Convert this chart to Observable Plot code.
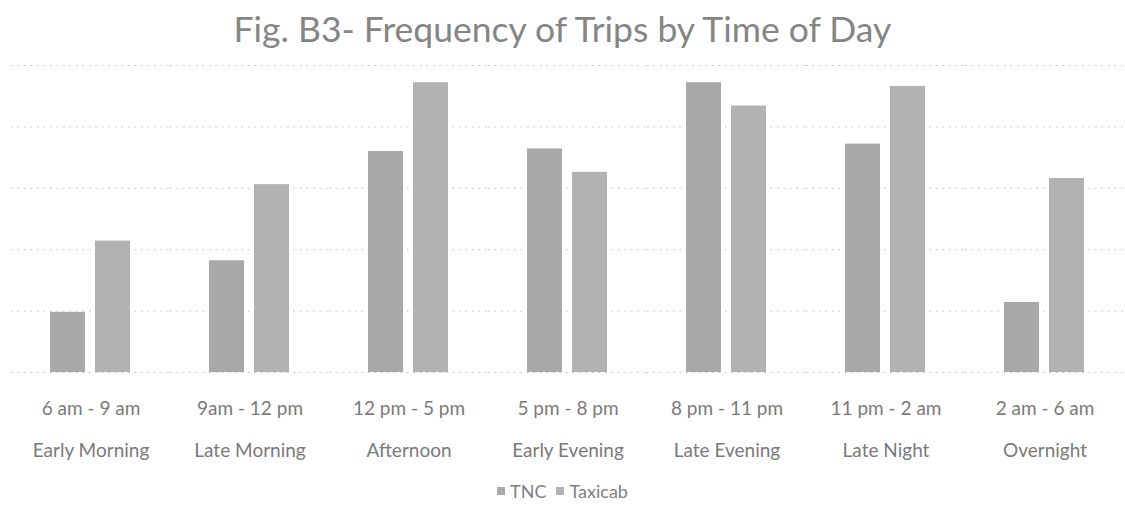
<!DOCTYPE html>
<html>
<head>
<meta charset="utf-8">
<script src="https://cdn.jsdelivr.net/npm/d3@7"></script>
<script src="https://cdn.jsdelivr.net/npm/@observablehq/plot@0.6"></script>
<style>
  html, body { margin: 0; padding: 0; background: #fff; }
  body { width: 1125px; height: 508px; overflow: hidden; font-family: Lato, "Open Sans", sans-serif; }
  #title { height: 56px; line-height: 58px; text-align: center; font-size: 35.5px; color: #858585; font-weight: 400; }
  #chart svg { display: block; }
  #legend { display: flex; justify-content: center; align-items: center; gap: 10px; font-size: 18px; color: #808080; margin-top: 4px; padding-left: 0px; }
  .item { display: flex; align-items: center; gap: 5px; }
  .sw { width: 8px; height: 8px; display: inline-block; }
</style>
</head>
<body>
<div id="title">Fig. B3- Frequency of Trips by Time of Day</div>
<div id="chart"></div>
<div id="legend"></div>
<script>
// Data (units: gridline every 5)
const periods = ["Early Morning", "Late Morning", "Afternoon", "Early Evening", "Late Evening", "Late Night", "Overnight"];
const timeRanges = ["6 am - 9 am", "9am - 12 pm", "12 pm - 5 pm", "5 pm - 8 pm", "8 pm - 11 pm", "11 pm - 2 am", "2 am - 6 am"];
const series = ["TNC", "Taxicab"];
const tncValues = [4.9, 9.1, 18.0, 18.2, 23.6, 18.6, 5.7];
const taxiValues = [10.7, 15.3, 23.6, 16.3, 21.7, 23.3, 15.8];
const gridTicks = [0, 5, 10, 15, 20, 25];
const colors = ["#a9a9a9", "#b2b2b2"];

const rows = [];
periods.forEach((p, i) => {
  rows.push({period: p, series: "TNC", value: tncValues[i]});
  rows.push({period: p, series: "Taxicab", value: taxiValues[i]});
});
const timeOf = new Map(periods.map((p, i) => [p, timeRanges[i]]));

const chart = Plot.plot({
  width: 1125,
  height: 420,
  marginTop: 9,
  marginBottom: 104,
  marginLeft: 9,
  marginRight: 0,
  style: {fontFamily: "Lato, 'Open Sans', sans-serif", background: "#fff"},
  fx: {domain: periods, padding: 0, axis: null},
  x: {domain: series, paddingInner: 0.22, paddingOuter: 0.862, axis: null},
  y: {domain: [0, 25], axis: null},
  color: {domain: series, range: colors},
  marks: [
    Plot.ruleY(gridTicks, {stroke: "#bdbdbd", strokeDasharray: "1.5,5", strokeWidth: 1}),
    Plot.barY(rows, {fx: "period", x: "series", y: "value", fill: "series"}),
    Plot.axisFx({
      anchor: "bottom",
      domain: periods,
      tickSize: 0,
      tickPadding: 13,
      fontSize: 19,
      lineHeight: 2.2,
      fill: "#7a7a7a",
      tickFormat: d => timeOf.get(d) + "\n" + d,
      label: null
    })
  ]
});
document.getElementById("chart").appendChild(chart);

const legend = document.getElementById("legend");
series.forEach((s, i) => {
  const item = document.createElement("span");
  item.className = "item";
  const sw = document.createElement("span");
  sw.className = "sw";
  sw.style.background = colors[i];
  const t = document.createElement("span");
  t.textContent = s;
  item.appendChild(sw);
  item.appendChild(t);
  legend.appendChild(item);
});
</script>
</body>
</html>
